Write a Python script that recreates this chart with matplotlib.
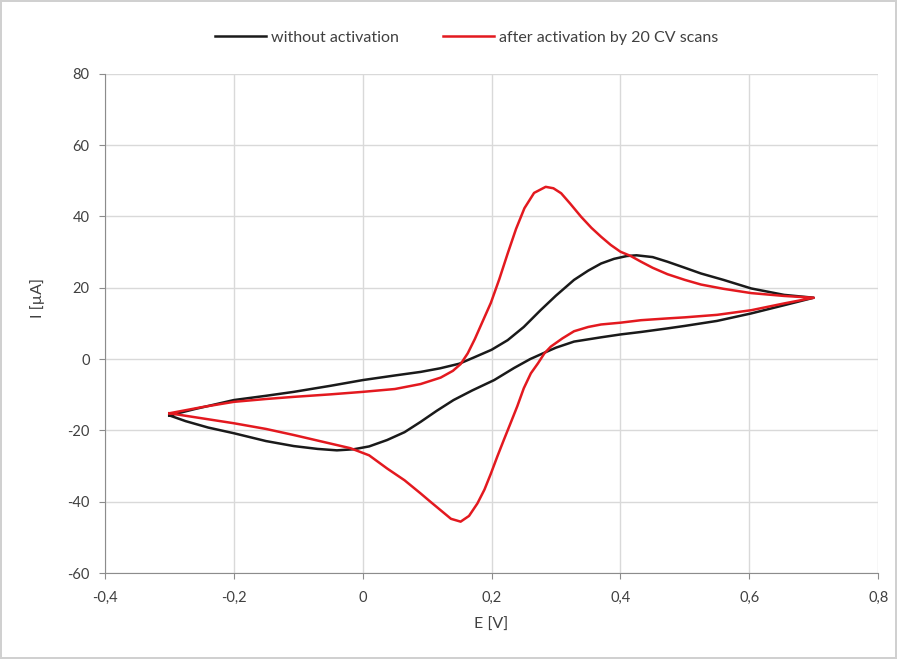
import matplotlib
matplotlib.use("Agg")
from matplotlib import pyplot as plt

plt.rcParams['font.family'] = ['Lato', 'DejaVu Sans']
plt.rcParams['axes.unicode_minus'] = False

# without activation: forward (anodic) scan then reverse scan
e_black = [-0.30, -0.26, -0.20, -0.15, -0.107, -0.05, 0.00, 0.05, 0.09, 0.12, 0.15, 0.172,
           0.20, 0.225, 0.25, 0.276, 0.30, 0.328, 0.35, 0.37, 0.39, 0.41, 0.425, 0.45,
           0.473, 0.50, 0.525, 0.56, 0.603, 0.654, 0.70,
           0.654, 0.603, 0.55, 0.50, 0.473, 0.432, 0.40, 0.37, 0.328, 0.30, 0.281, 0.26,
           0.235, 0.204, 0.17, 0.141, 0.115, 0.09, 0.065, 0.038, 0.01, -0.014, -0.04,
           -0.07, -0.107, -0.15, -0.20, -0.24, -0.275, -0.30]
i_black = [-15.8, -14.0, -11.5, -10.3, -9.2, -7.5, -5.9, -4.6, -3.6, -2.6, -1.3, 0.4,
           2.6, 5.3, 9.0, 13.7, 17.8, 22.2, 24.8, 26.8, 28.1, 28.9, 29.1, 28.6,
           27.3, 25.6, 24.0, 22.2, 19.8, 18.0, 17.2,
           15.1, 12.8, 10.7, 9.3, 8.6, 7.6, 6.9, 6.1, 4.9, 3.2, 1.7, 0.0,
           -2.5, -5.9, -8.8, -11.5, -14.5, -17.6, -20.5, -22.7, -24.5, -25.3, -25.6,
           -25.2, -24.4, -23.0, -20.8, -19.2, -17.4, -15.8]

# after activation by 20 CV scans
e_red = [-0.30, -0.25, -0.20, -0.15, -0.107, -0.05, 0.00, 0.05, 0.09, 0.121, 0.14, 0.152,
         0.163, 0.174, 0.186, 0.199, 0.212, 0.225, 0.238, 0.251, 0.266, 0.284, 0.296,
         0.308, 0.322, 0.339, 0.355, 0.37, 0.385, 0.40, 0.416, 0.432, 0.45, 0.473, 0.50,
         0.525, 0.56, 0.603, 0.654, 0.70,
         0.654, 0.603, 0.55, 0.50, 0.473, 0.432, 0.40, 0.37, 0.35, 0.328, 0.31, 0.292,
         0.282, 0.272, 0.261, 0.25, 0.24, 0.229, 0.219, 0.209, 0.199, 0.189, 0.178,
         0.165, 0.152, 0.137, 0.121, 0.105, 0.09, 0.065, 0.038, 0.01, -0.019, -0.05,
         -0.107, -0.15, -0.20, -0.25, -0.30]
i_red = [-15.2, -13.5, -12.0, -11.2, -10.6, -9.9, -9.2, -8.4, -7.0, -5.2, -3.3, -1.4,
         1.6, 5.6, 10.5, 15.8, 22.4, 29.6, 36.5, 42.3, 46.6, 48.3, 47.9,
         46.5, 43.6, 39.9, 36.8, 34.3, 32.0, 30.1, 28.9, 27.3, 25.6, 23.8, 22.2,
         20.9, 19.7, 18.5, 17.7, 17.2,
         15.6, 13.7, 12.4, 11.7, 11.4, 10.9, 10.2, 9.7, 9.0, 7.8, 5.8, 3.5,
         1.6, -1.2, -4.0, -8.2, -13.2, -18.2, -22.7, -27.3, -32.1, -36.6, -40.5,
         -44.0, -45.6, -44.8, -42.4, -40.0, -37.7, -34.0, -30.7, -27.0, -25.0, -23.7,
         -21.3, -19.6, -18.0, -16.6, -15.2]

x_ticks = [-0.4, -0.2, 0, 0.2, 0.4, 0.6, 0.8]
x_labels = ["-0,4", "-0,2", "0", "0,2", "0,4", "0,6", "0,8"]
y_ticks = [-60, -40, -20, 0, 20, 40, 60, 80]

fig = plt.figure(figsize=(8.97, 6.59), dpi=100)
fig.patch.set_edgecolor("#d0d0d0")
fig.patch.set_linewidth(1.5)
ax = fig.add_axes([0.117, 0.1305, 0.862, 0.7575])

ax.plot(e_black, i_black, color="#1a1a1a", lw=1.8, solid_joinstyle="round",
        label="without activation")
ax.plot(e_red, i_red, color="#e3191f", lw=1.8, solid_joinstyle="round",
        label="after activation by 20 CV scans")

ax.set_xlim(-0.4, 0.8)
ax.set_ylim(-60, 80)
ax.set_xticks(x_ticks)
ax.set_xticklabels(x_labels)
ax.set_yticks(y_ticks)
ax.grid(True, color="#d9d9d9", lw=1)
ax.set_axisbelow(True)
for s in ["top", "right"]:
    ax.spines[s].set_visible(False)
for s in ["left", "bottom"]:
    ax.spines[s].set_color("#8c8c8c")
ax.tick_params(colors="#8c8c8c", labelcolor="#404040", labelsize=10.5, length=4)
ax.tick_params(axis="x", pad=9)
ax.tick_params(axis="y", pad=7)

ax.set_xlabel("E [V]", fontsize=11.5, color="#404040", labelpad=9)
ax.set_ylabel("I [µA]", fontsize=11.5, color="#404040", labelpad=12)
ax.yaxis.set_label_coords(-0.077, 0.55)

fig.legend(loc="upper center", bbox_to_anchor=(0.52, 0.975), ncol=2, frameon=False,
           fontsize=11.5, handlelength=3.2, handletextpad=0.3, columnspacing=2.8,
           labelcolor="#404040")

plt.savefig("out.png", dpi=100)
